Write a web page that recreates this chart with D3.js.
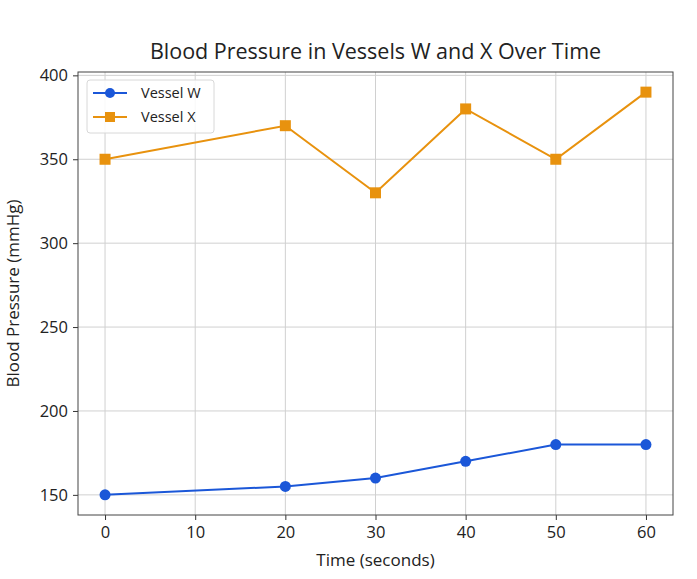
<!DOCTYPE html>
<html><head><meta charset="utf-8">
<script src="https://cdn.jsdelivr.net/npm/d3@7"></script>
<style>body{margin:0;background:#fff;} text{font-family:"Open Sans","Noto Sans",sans-serif;fill:#222;}</style>
</head><body>
<svg id="c" width="697" height="579"></svg>
<script>
const times = [0, 20, 30, 40, 50, 60];
const vesselW = [150, 155, 160, 170, 180, 180];
const vesselX = [350, 370, 330, 380, 350, 390];
const xTicks = [0, 10, 20, 30, 40, 50, 60];
const yTicks = [150, 200, 250, 300, 350, 400];
const seriesNames = ["Vessel W", "Vessel X"];

const svg = d3.select("#c");
const L = 78, R = 673, T = 72, B = 515;
const x = d3.scaleLinear().domain([-3, 63]).range([L, R]);
const y = d3.scaleLinear().domain([138, 402]).range([B, T]);

const grid = svg.append("g");
xTicks.forEach(t => grid.append("line").attr("x1", x(t)).attr("x2", x(t)).attr("y1", T).attr("y2", B).attr("stroke", "#d0d0d0").attr("stroke-width", 1));
yTicks.forEach(t => grid.append("line").attr("x1", L).attr("x2", R).attr("y1", y(t)).attr("y2", y(t)).attr("stroke", "#d0d0d0").attr("stroke-width", 1));

const xa = svg.append("g").attr("transform", `translate(0,${B})`).call(d3.axisBottom(x).tickValues(xTicks).tickSize(5).tickPadding(6));
const ya = svg.append("g").attr("transform", `translate(${L},0)`).call(d3.axisLeft(y).tickValues(yTicks).tickSize(5).tickPadding(5));
[xa, ya].forEach(a => { a.select(".domain").remove(); a.selectAll("text").style("font-size", "16.5px").attr("fill", "#222"); a.selectAll("line").attr("stroke", "#333"); });

svg.append("rect").attr("x", L).attr("y", T).attr("width", R - L).attr("height", B - T).attr("fill", "none").attr("stroke", "#444").attr("stroke-width", 1);

const colors = ["#1b57d8", "#e8920e"];
const data = [vesselW, vesselX];
const line = d3.line().x((d, i) => x(times[i])).y(d => y(d));
data.forEach((vals, k) => {
  svg.append("path").datum(vals).attr("d", line).attr("fill", "none").attr("stroke", colors[k]).attr("stroke-width", 2);
  if (k === 0) {
    svg.selectAll(null).data(vals).enter().append("circle").attr("cx", (d, i) => x(times[i])).attr("cy", d => y(d)).attr("r", 5.5).attr("fill", colors[k]);
  } else {
    svg.selectAll(null).data(vals).enter().append("rect").attr("x", (d, i) => x(times[i]) - 5.5).attr("y", d => y(d) - 5.5).attr("width", 11).attr("height", 11).attr("fill", colors[k]);
  }
});

// legend
const lg = svg.append("g");
lg.append("rect").attr("x", 87).attr("y", 80).attr("width", 127).attr("height", 53).attr("rx", 3).attr("fill", "#fff").attr("fill-opacity", 0.85).attr("stroke", "#d8d8d8");
seriesNames.forEach((n, k) => {
  const yy = 93 + k * 24;
  lg.append("line").attr("x1", 93).attr("x2", 127).attr("y1", yy).attr("y2", yy).attr("stroke", colors[k]).attr("stroke-width", 2);
  if (k === 0) lg.append("circle").attr("cx", 110).attr("cy", yy).attr("r", 5).attr("fill", colors[k]);
  else lg.append("rect").attr("x", 105).attr("y", yy - 5).attr("width", 10).attr("height", 10).attr("fill", colors[k]);
  lg.append("text").attr("x", 141).attr("y", yy + 5).style("font-size", "14.5px").text(n);
});

svg.append("text").attr("x", (L + R) / 2).attr("y", 59).attr("text-anchor", "middle").style("font-size", "21.5px").text("Blood Pressure in Vessels W and X Over Time");
svg.append("text").attr("x", (L + R) / 2).attr("y", 566).attr("text-anchor", "middle").style("font-size", "17px").text("Time (seconds)");
svg.append("text").attr("transform", `translate(19,${(T + B) / 2}) rotate(-90)`).attr("text-anchor", "middle").style("font-size", "17px").text("Blood Pressure (mmHg)");
</script>
</body></html>
